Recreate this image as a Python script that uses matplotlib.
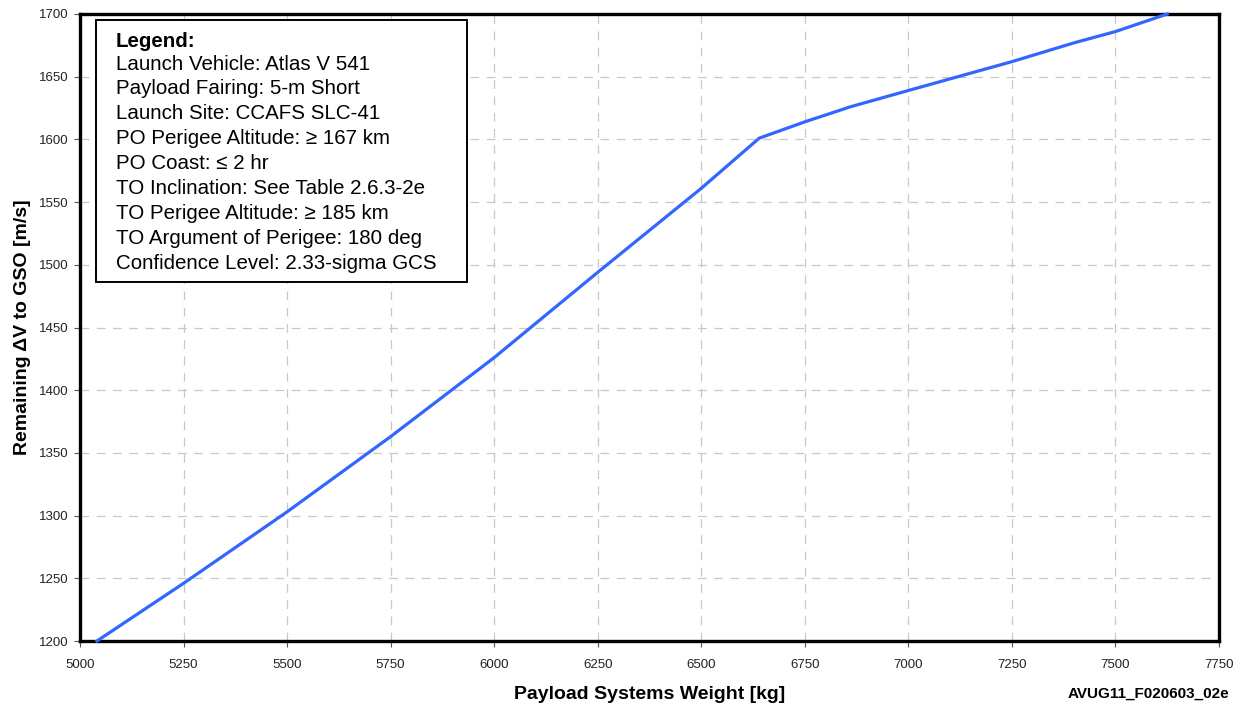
import numpy as np
import matplotlib
matplotlib.use('Agg')
import matplotlib.pyplot as plt
from matplotlib.patches import Rectangle

plt.rcParams['font.family'] = ['Liberation Sans', 'DejaVu Sans']

# Curve
weight_kg = [5041, 5250, 5500, 5700, 5750, 6000, 6250, 6500, 6640, 6750, 6860, 7000, 7250, 7400, 7500, 7625]
delta_v = [1200, 1246, 1303, 1351, 1363, 1426, 1494, 1561, 1601, 1614, 1626, 1639, 1662, 1677, 1686, 1700]

x_ticks = list(range(5000, 7751, 250))
y_ticks = list(range(1200, 1701, 50))

legend_lines = [
    'Launch Vehicle: Atlas V 541',
    'Payload Fairing: 5-m Short',
    'Launch Site: CCAFS SLC-41',
    'PO Perigee Altitude: \u2265 167 km',
    'PO Coast: \u2264 2 hr',
    'TO Inclination: See Table 2.6.3-2e',
    'TO Perigee Altitude: \u2265 185 km',
    'TO Argument of Perigee: 180 deg',
    'Confidence Level: 2.33-sigma GCS',
]

W, H = 1244, 709
fig = plt.figure(figsize=(W / 100, H / 100), dpi=100)
# axes box in pixels: left 80, right 1219, top 14, bottom 641
ax = fig.add_axes([80 / W, (H - 641) / H, (1219 - 80) / W, (641 - 14) / H])

ax.plot(weight_kg, delta_v, color='#3366ff', lw=2.3, solid_joinstyle='miter', zorder=3, clip_on=False)

ax.set_xlim(5000, 7750)
ax.set_ylim(1200, 1700)
ax.set_xticks(x_ticks)
ax.set_yticks(y_ticks)
ax.tick_params(axis='both', labelsize=9.5, length=4, width=0.8, color='#555555',
               labelcolor='#222222')
ax.tick_params(axis='x', pad=9)
ax.tick_params(axis='y', pad=4)
ax.grid(True, color='#c8c8c8', linestyle=(0, (7, 6)), linewidth=0.9)
ax.set_axisbelow(True)

for side in ['left', 'bottom', 'top', 'right']:
    ax.spines[side].set_linewidth(2.4)
    ax.spines[side].set_color('black')

ax.set_xlabel('Payload Systems Weight [kg]', fontsize=14, fontweight='bold', labelpad=11)
ax.set_ylabel('Remaining \u0394V to GSO [m/s]', fontsize=14, fontweight='bold')
ax.yaxis.set_label_coords(-(80 - 31) / (1219 - 80), 0.5)

# legend box (pixel positions converted to axes fraction)
def ax_x(px):
    return (px - 80) / (1219 - 80)

def ax_y(py):
    return (641 - py) / (641 - 14)

box = Rectangle((ax_x(96), ax_y(282)), ax_x(467) - ax_x(96), ax_y(20) - ax_y(282),
                transform=ax.transAxes, facecolor='white', edgecolor='black', lw=1.4, zorder=5)
ax.add_patch(box)
ax.text(ax_x(116), ax_y(41), 'Legend:', transform=ax.transAxes, fontsize=14.8,
        fontweight='bold', va='center', ha='left', zorder=6)
for i, line in enumerate(legend_lines):
    ax.text(ax_x(116), ax_y(64 + i * 24.9), line, transform=ax.transAxes, fontsize=14.8,
            va='center', ha='left', zorder=6)

fig.text(1229 / W, 1 - 694 / H, 'AVUG11_F020603_02e', fontsize=11, fontweight='bold',
         ha='right', va='center')

fig.savefig('out.png', dpi=100)
